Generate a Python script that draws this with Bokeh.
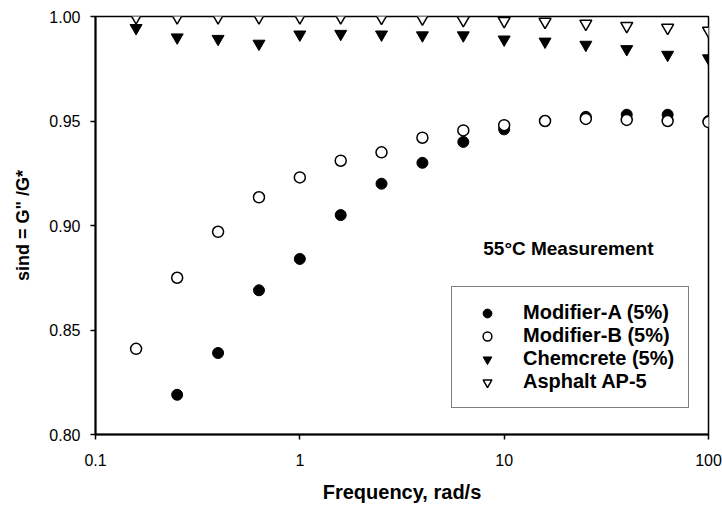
from bokeh.plotting import figure
from bokeh.models import (ColumnDataSource, Legend, LegendItem, Label, FixedTicker,
                          NumeralTickFormatter, CustomJSTickFormatter, Range1d)
from bokeh.embed import file_html
from bokeh.resources import INLINE

# ---- data ----
freq = [0.158, 0.251, 0.398, 0.631, 1.0, 1.585, 2.51, 3.98, 6.31, 10.0,
        15.85, 25.1, 39.8, 63.1, 100.0]
freq_a = freq[1:]
modifier_a = [0.819, 0.839, 0.869, 0.884, 0.905, 0.920, 0.930, 0.940, 0.946,
              0.950, 0.952, 0.953, 0.953, 0.950]
modifier_b = [0.841, 0.875, 0.897, 0.9135, 0.923, 0.931, 0.935, 0.942, 0.9455,
              0.948, 0.950, 0.951, 0.9505, 0.950, 0.9495]
chemcrete = [0.9945, 0.990, 0.9893, 0.987, 0.9914, 0.9917, 0.9914, 0.991,
             0.991, 0.989, 0.988, 0.9865, 0.9844, 0.9817, 0.980]
asphalt = [0.9997, 0.9997, 0.9997, 0.9997, 0.9997, 0.9997, 0.9994, 0.9991,
           0.9983, 0.9979, 0.9975, 0.9966, 0.9955, 0.9946, 0.9932]

x_ticks = [0.1, 1, 10, 100]
y_ticks = [0.80, 0.85, 0.90, 0.95, 1.00]

FONT = "Liberation Sans"

p = figure(width=722, height=508, x_axis_type="log",
           x_range=Range1d(0.1, 100), y_range=Range1d(0.80, 1.00),
           output_backend="svg", toolbar_location=None,
           min_border_left=95, min_border_right=14, min_border_top=16,
           min_border_bottom=74)

p.xgrid.visible = False
p.ygrid.visible = False
p.outline_line_color = "black"
p.outline_line_width = 1.5
p.background_fill_color = "white"
p.border_fill_color = "white"

# axes
p.xaxis.ticker = FixedTicker(ticks=x_ticks)
p.xaxis.formatter = CustomJSTickFormatter(code="return tick.toString();")
p.yaxis.ticker = FixedTicker(ticks=y_ticks)
p.yaxis.formatter = NumeralTickFormatter(format="0.00")
for ax in (p.xaxis, p.yaxis):
    ax.axis_line_color = "black"
    ax.axis_line_width = 2
    ax.major_tick_line_color = "black"
    ax.major_tick_line_width = 1.5
    ax.major_tick_out = 5
    ax.major_tick_in = 0
    ax.minor_tick_line_color = None
    ax.major_label_text_font = FONT
    ax.major_label_text_font_size = "16px"
    ax.major_label_text_color = "black"
    ax.axis_label_text_font = FONT
    ax.axis_label_text_font_style = "bold"
    ax.axis_label_text_color = "black"

p.xaxis.axis_label = "Frequency, rad/s"
p.xaxis.axis_label_text_font_size = "20px"
p.xaxis.major_label_standoff = 14
p.xaxis.axis_label_standoff = 12
p.yaxis.axis_label = 'sind = G" /G*'
p.yaxis.axis_label_text_font_size = "18px"
p.yaxis.major_label_standoff = 10
p.yaxis.axis_label_standoff = 13

src_a = ColumnDataSource(dict(x=freq_a, y=modifier_a))
src_b = ColumnDataSource(dict(x=freq, y=modifier_b))
src_c = ColumnDataSource(dict(x=freq, y=chemcrete))
src_d = ColumnDataSource(dict(x=freq, y=asphalt))

r_c = p.scatter("x", "y", source=src_c, marker="inverted_triangle", size=12,
                fill_color="black", line_color="black", line_width=1)
r_d = p.scatter("x", "y", source=src_d, marker="inverted_triangle", size=12,
                fill_color="white", line_color="black", line_width=1.5)
r_a = p.scatter("x", "y", source=src_a, marker="circle", size=11,
                fill_color="black", line_color="black", line_width=1)
r_b = p.scatter("x", "y", source=src_b, marker="circle", size=11,
                fill_color="white", line_color="black", line_width=1.5)

legend = Legend(items=[
    LegendItem(label="Modifier-A (5%)", renderers=[r_a]),
    LegendItem(label="Modifier-B (5%)", renderers=[r_b]),
    LegendItem(label="Chemcrete (5%)", renderers=[r_c]),
    LegendItem(label="Asphalt AP-5", renderers=[r_d]),
], location=(356, 26))
legend.border_line_color = "black"
legend.border_line_width = 1.5
legend.background_fill_color = "white"
legend.background_fill_alpha = 1
legend.label_text_font = FONT
legend.label_text_font_style = "bold"
legend.label_text_font_size = "20px"
legend.label_text_color = "black"
legend.padding = 14
legend.spacing = 0
legend.glyph_width = 42
legend.glyph_height = 22
legend.label_height = 22
legend.label_standoff = 15
legend.margin = 0
p.add_layout(legend, "center")

note = Label(x=7.9, y=0.8888, text="55°C Measurement", text_font=FONT,
             text_font_style="bold", text_font_size="19px",
             text_color="black", text_baseline="middle", text_align="left")
p.add_layout(note)

open("out.html", "w").write(file_html(p, INLINE))
